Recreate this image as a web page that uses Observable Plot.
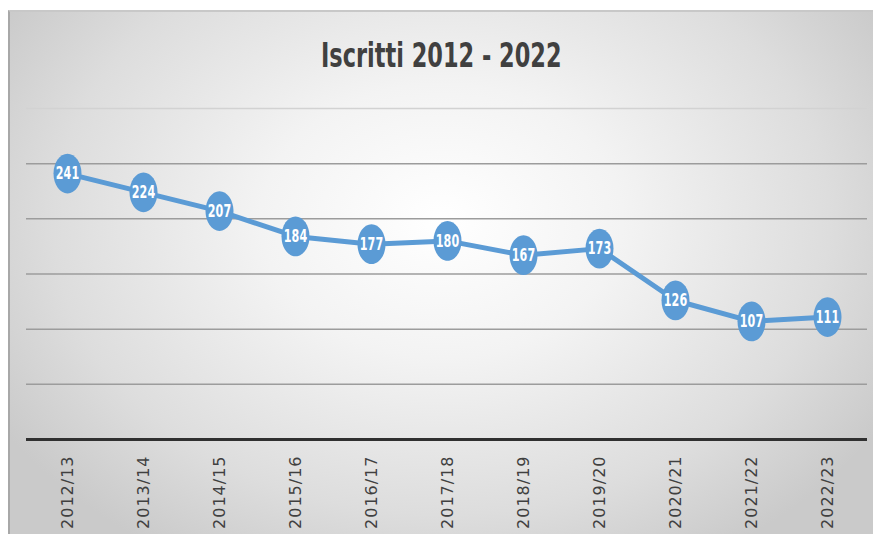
<!DOCTYPE html>
<html><head><meta charset="utf-8">
<script src="https://cdn.jsdelivr.net/npm/d3@7"></script>
<script src="https://cdn.jsdelivr.net/npm/@observablehq/plot@0.6"></script>
<style>
html,body{margin:0;padding:0;background:#fff;width:873px;height:534px;overflow:hidden;}
#frame{position:absolute;left:8px;top:10px;width:865px;height:524px;box-sizing:border-box;
 border-left:2px solid #a8a8a8;border-top:2px solid #c8c8c8;
 background:radial-gradient(ellipse 60% 75% at 50% 40%, #ffffff 0%, #f3f3f3 35%, #dddddd 75%, #cacaca 100%);}
#title{position:absolute;left:0;top:23px;width:863px;text-align:center;}
#title span{display:inline-block;transform:scaleX(0.66);font-family:"DejaVu Sans",sans-serif;
 font-weight:bold;font-size:34px;color:#404040;}
#chart{position:absolute;left:0;top:80px;}
</style></head>
<body>
<div id="frame"><div id="title"><span>Iscritti 2012 - 2022</span></div><div id="chart"></div></div>
<script>
const years = ["2012/13","2013/14","2014/15","2015/16","2016/17","2017/18","2018/19","2019/20","2020/21","2021/22","2022/23"];
const iscritti = [241,224,207,184,177,180,167,173,126,107,111];
const gridValues = [50,100,150,200,250];
const topGrid = [300];

const data = years.map((y,i)=>({anno:y, n:iscritti[i]}));
const blue = "#5b9bd5";
// tall ellipse marker (the reference markers are stretched vertically)
const ellipse = {draw(ctx, size){
  const r = Math.sqrt(size/Math.PI), rx = r, ry = r*1.42, k = 0.5523;
  ctx.moveTo(rx,0);
  ctx.bezierCurveTo(rx, ry*k, rx*k, ry, 0, ry);
  ctx.bezierCurveTo(-rx*k, ry, -rx, ry*k, -rx, 0);
  ctx.bezierCurveTo(-rx, -ry*k, -rx*k, -ry, 0, -ry);
  ctx.bezierCurveTo(rx*k, -ry, rx, -ry*k, rx, 0);
  ctx.closePath();
}};
const plot = Plot.plot({
  width: 863, height: 442,
  marginLeft: 16, marginRight: 6, marginTop: 16, marginBottom: 95,
  style: {background: "transparent", overflow: "visible"},
  x: {type: "band", domain: years, padding: 0, label: null, tickSize: 0, tickRotate: -90, tickPadding: 16},
  y: {domain: [0, 300], axis: null},
  marks: [
    Plot.ruleY(topGrid, {stroke: "#d2d2d2", strokeWidth: 1.5}),
    Plot.ruleY(gridValues, {stroke: "#9c9c9c", strokeWidth: 1.5}),
    Plot.ruleY([0], {stroke: "#303030", strokeWidth: 3}),
    Plot.line(data, {x: "anno", y: "n", stroke: blue, strokeWidth: 5}),
    Plot.dot(data, {x: "anno", y: "n", r: 14, symbol: ellipse, fill: blue, stroke: null}),
    Plot.text(data, {x: "anno", y: "n", text: d => String(d.n), fill: "white", fontSize: 18, fontWeight: "bold",
      fontFamily: "'DejaVu Sans',sans-serif"})
  ]
});
const xa = plot.querySelector('g[aria-label="x-axis tick label"]');
if (xa) { xa.setAttribute("font-size","16"); xa.setAttribute("font-family","'DejaVu Sans',sans-serif"); xa.setAttribute("fill","#404040"); xa.style.letterSpacing = "1px"; }
const tv = plot.querySelector('g[aria-label="text"]');
if (tv) { tv.querySelectorAll("text").forEach(t => { const tr = t.getAttribute("transform") || ""; t.setAttribute("transform", tr + " scale(0.62,1)"); }); }
document.getElementById("chart").appendChild(plot);
</script>
</body></html>
